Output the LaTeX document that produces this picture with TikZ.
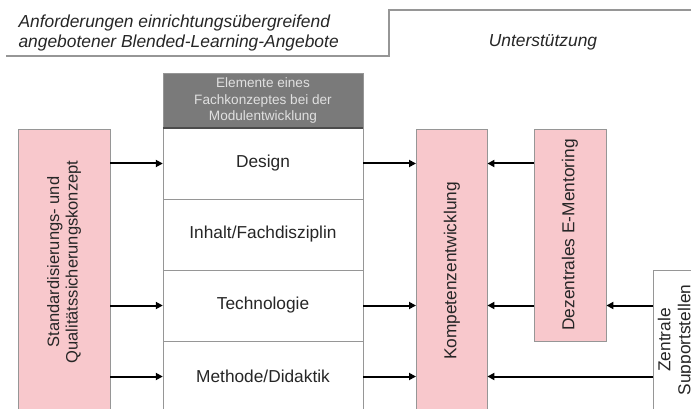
\documentclass[tikz,border=0pt]{standalone}
\usepackage{fontspec}
\setmainfont{Liberation Sans}
\usetikzlibrary{arrows.meta}
\definecolor{boxpink}{RGB}{248,200,204}
\definecolor{headgray}{RGB}{122,122,122}
\definecolor{linegray}{RGB}{150,150,150}

\begin{document}
\begin{tikzpicture}[x=1pt, y=-1pt,
    txt/.style={font=\fontsize{17.3}{20}\selectfont, text=black!85},
    hdr/.style={font=\itshape\fontsize{17.4}{20}\selectfont, text=black!85},
    pinkbox/.style={rectangle, draw=linegray, fill=boxpink, anchor=north west, inner sep=0pt},
    row/.style={rectangle, draw=linegray, fill=white, minimum width=200pt, minimum height=71pt, txt},
    arr/.style={-{Triangle[length=7pt,width=7pt]}, line width=2pt}]
    \useasboundingbox (0,0) rectangle (691,409);
    \clip (0,0) rectangle (691,409);
    % Header
    \draw[linegray, line width=1.3pt] (6,56) -- (389,56) -- (389,10) -- (691,10);
    \node[hdr, anchor=west, align=left] (req) at (15,33) {Anforderungen einrichtungsübergreifend\\angebotener Blended-Learning-Angebote};
    \node[hdr] (supp) at (543,42) {Unterstützung};
    % Left box
    \node[pinkbox, minimum width=92pt, minimum height=300pt] (std) at (18,129) {};
    \node[txt, rotate=90, align=center, font=\fontsize{16.5}{18.5}\selectfont] (stdlabel) at (64,262) {Standardisierungs- und\\Qualitätssicherungskonzept};
    % Elements column
    \node[rectangle, draw=linegray, fill=headgray, minimum width=200pt, minimum height=55pt, text=white!88!black, align=center, font=\fontsize{13.6}{16.5}\selectfont] (elem) at (263,100.5) {Elemente eines\\Fachkonzeptes bei der\\Modulentwicklung};
    \node[row] (design) at (263,163.5) {Design};
    \node[row] (inhalt) at (263,234.5) {Inhalt/Fachdisziplin};
    \node[row] (techn) at (263,305.5) {Technologie};
    \node[row] (methode) at (263,376.5) {Methode/Didaktik};
    \draw[line width=1.6pt, black!70] (elem.south west) -- (elem.south east);
    % Kompetenz
    \node[pinkbox, minimum width=71pt, minimum height=300pt] (komp) at (416,129) {};
    \node[txt, rotate=90] (komplabel) at (452,271) {Kompetenzentwicklung};
    % E-Mentoring
    \node[pinkbox, minimum width=72pt, minimum height=212pt] (dez) at (534,129) {};
    \node[txt, rotate=90] (dezlabel) at (570,235) {Dezentrales E-Mentoring};
    % Support
    \node[rectangle, draw=linegray, fill=white, anchor=north west, inner sep=0pt, minimum width=80pt, minimum height=200pt] (zen) at (653,270) {};
    \node[txt, rotate=90, align=center] (zenlabel) at (676,340) {Zentrale\\Supportstellen};
    % Arrows
    \draw[arr] (std.east |- design) -- (design);
    \draw[arr] (std.east |- techn) -- (techn);
    \draw[arr] (std.east |- methode) -- (methode);
    \draw[arr] (design) -- (komp.west |- design);
    \draw[arr] (techn) -- (komp.west |- techn);
    \draw[arr] (methode) -- (komp.west |- methode);
    \draw[arr] (dez.west |- design) -- (komp.east |- design);
    \draw[arr] (dez.west |- techn) -- (komp.east |- techn);
    \draw[arr] (zen.west |- techn) -- (dez.east |- techn);
    \draw[arr] (zen.west |- methode) -- (komp.east |- methode);
\end{tikzpicture}
\end{document}
